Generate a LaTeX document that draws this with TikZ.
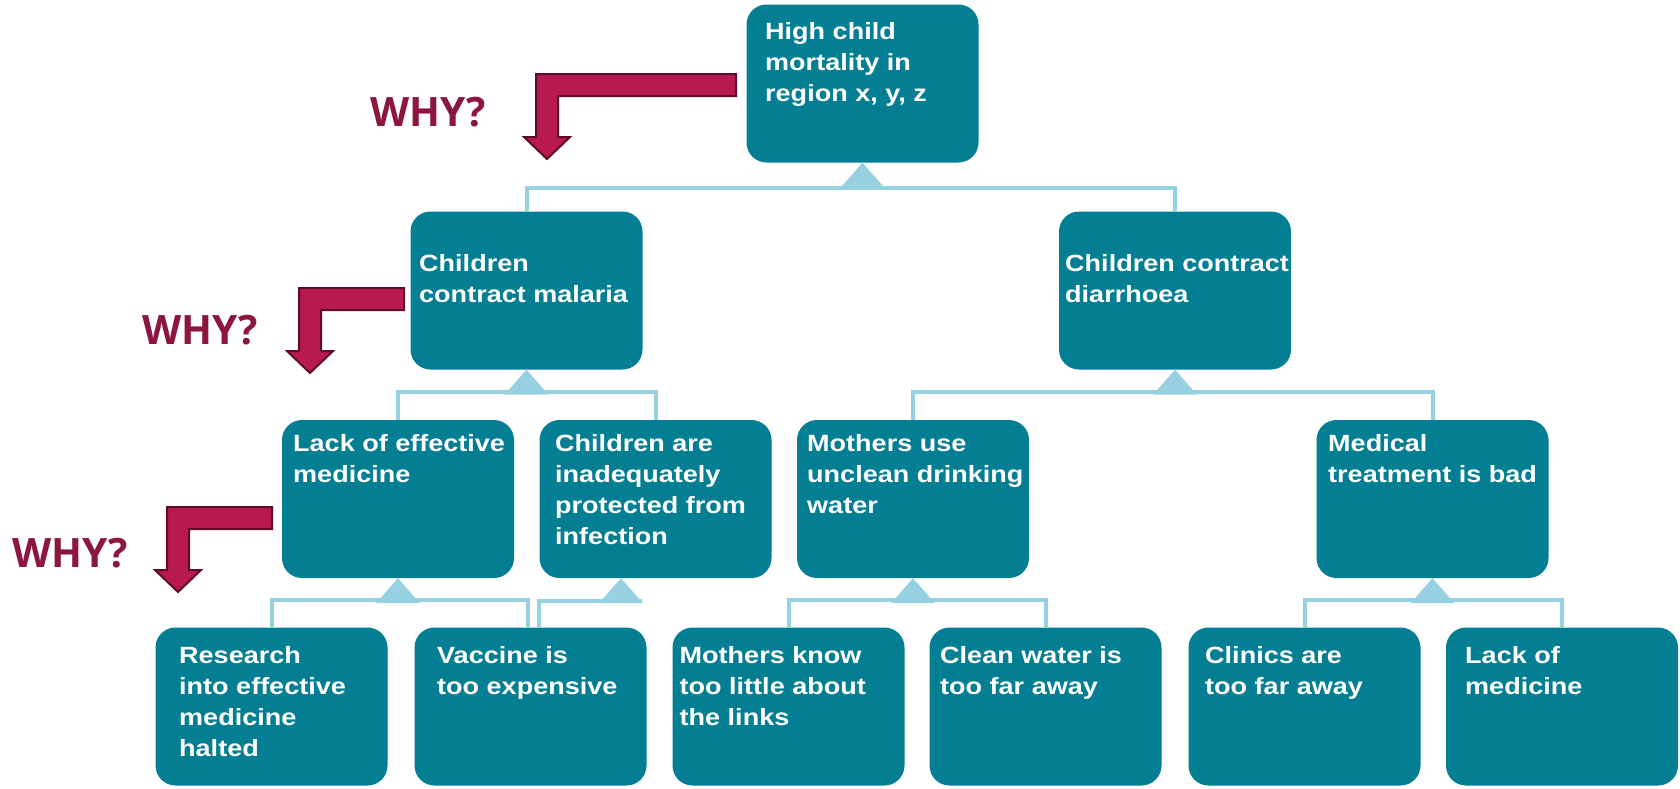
\documentclass[tikz,border=0pt]{standalone}
\usepackage{fontspec}
\setmainfont{Liberation Sans}
\newfontfamily\boxfont[FakeStretch=1.15]{Liberation Sans}
\newfontfamily\whyfont{Open Sans}
\usetikzlibrary{calc}
\definecolor{teal1}{HTML}{037E93}
\definecolor{conn}{HTML}{97D1E1}
\definecolor{arrfill}{HTML}{B8194F}
\definecolor{arrline}{HTML}{5E0B2A}
\definecolor{whycol}{HTML}{8D1541}
\tikzset{
  box/.style={fill=teal1, rounded corners=20pt, minimum width=232pt, minimum height=158pt, inner sep=0pt},
  txt/.style={anchor=north west, inner sep=0pt, align=left, text=white, font=\boxfont\bfseries\fontsize{23.5}{31}\selectfont},
  bus/.style={draw=conn, line width=4pt},
  tri/.style={fill=conn},
  whyarr/.style={fill=arrfill, draw=arrline, line width=2pt, line join=miter},
  whytxt/.style={anchor=base west, inner sep=0pt, text=whycol, font=\whyfont\bfseries\fontsize{40.5}{44}\selectfont},
}
\newcommand{\whyarrow}[3]{%
  \draw[whyarr] (#3,#2) -- (#1,#2) -- (#1,{#2+63}) -- ({#1-12},{#2+63}) -- ({#1+11},{#2+85})
    -- ({#1+34},{#2+63}) -- ({#1+22},{#2+63}) -- ({#1+22},{#2+22}) -- (#3,{#2+22}) -- cycle;}
\begin{document}
\begin{tikzpicture}[x=1pt,y=-1pt]
\useasboundingbox (0,0) rectangle (1680,788);
% boxes
\node[box] (top) at (862.5,83.5) {};
\node[box] (mal) at (526.5,290.5) {};
\node[box] (dia) at (1175,290.5) {};
\node[box] (lack) at (398,499) {};
\node[box] (inad) at (655.5,499) {};
\node[box] (moth) at (913,499) {};
\node[box] (med) at (1432.5,499) {};
\node[box] (res) at (271.5,706.5) {};
\node[box] (vac) at (530.5,706.5) {};
\node[box] (know) at (788.5,706.5) {};
\node[box] (clean) at (1045.5,706.5) {};
\node[box] (clin) at (1304.5,706.5) {};
\node[box] (lmed) at (1562,706.5) {};
% connectors
\draw[bus] (mal.north) -- ++(0,-23) -| (dia.north);
\fill[tri] (top.south) -- ++(-22,25) -- ++(44,0) -- cycle;
\draw[bus] (lack.north) -- ++(0,-28) -| (inad.north);
\fill[tri] (mal.south) -- ++(-22,25) -- ++(44,0) -- cycle;
\draw[bus] (moth.north) -- ++(0,-28) -| (med.north);
\fill[tri] (dia.south) -- ++(-22,25) -- ++(44,0) -- cycle;
\draw[bus] (res.north) -- ++(0,-27) -| ([xshift=-3pt]vac.north);
\fill[tri] (lack.south) -- ++(-22,25) -- ++(44,0) -- cycle;
\coordinate (inadend) at ([xshift=-13.5pt]inad.south);
\draw[bus] ([xshift=8.5pt]vac.north) |- ([yshift=-22.5pt]inadend);
\fill[tri] ([xshift=-34.5pt]inad.south) -- ++(-22,25) -- ++(44,0) -- cycle;
\draw[bus] (know.north) -- ++(0,-27) -| (clean.north);
\fill[tri] (moth.south) -- ++(-22,25) -- ++(44,0) -- cycle;
\draw[bus] (clin.north) -- ++(0,-27) -| (lmed.north);
\fill[tri] (med.south) -- ++(-22,25) -- ++(44,0) -- cycle;
% texts
\node[txt] (ttop) at (765,17.8) {\strut High child\\mortality in\\region x, y, z};
\node[txt] (tmal) at (419,250) {\strut Children\\contract malaria};
\node[txt] (tdia) at (1065,250) {\strut Children contract\\diarrhoea};
\node[txt] (tlack) at (293,429.8) {\strut Lack of effective\\medicine};
\node[txt] (tinad) at (555,429.8) {\strut Children are\\inadequately\\protected from\\infection};
\node[txt] (tmoth) at (807,429.8) {\strut Mothers use\\unclean drinking\\water};
\node[txt] (tmed) at (1328,429.8) {\strut Medical\\treatment is bad};
\node[txt] (tres) at (179,641.3) {\strut Research\\into effective\\medicine\\halted};
\node[txt] (tvac) at (437,641.3) {\strut Vaccine is\\too expensive};
\node[txt] (tknow) at (679.5,641.3) {\strut Mothers know\\too little about\\the links};
\node[txt] (tclean) at (940,641.3) {\strut Clean water is\\too far away};
\node[txt] (tclin) at (1205,641.3) {\strut Clinics are\\too far away};
\node[txt] (tlmed) at (1465,641.3) {\strut Lack of\\medicine};
% why arrows
\whyarrow{536}{74}{736}
\whyarrow{299}{288}{404}
\whyarrow{167}{507}{272}
\node[whytxt] (why1) at (370,126) {WHY?};
\node[whytxt] (why2) at (142,344) {WHY?};
\node[whytxt] (why3) at (12,567) {WHY?};
\end{tikzpicture}
\end{document}
